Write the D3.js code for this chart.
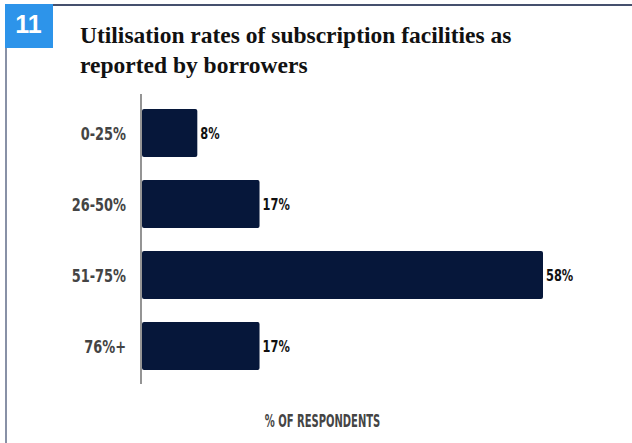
<!DOCTYPE html>
<html>
<head>
<meta charset="utf-8">
<script src="https://cdn.jsdelivr.net/npm/d3@7"></script>
<style>
  html, body { margin: 0; padding: 0; background: #fff; }
  svg { display: block; }
</style>
</head>
<body>
<svg id="chart" width="632" height="443"></svg>
<script>
// Utilisation bands and share of respondents (%)
const categories = ["0-25%", "26-50%", "51-75%", "76%+"];
const values = [8, 17, 58, 17];
const titleLines = ["Utilisation rates of subscription facilities as", "reported by borrowers"];
const chartNumber = "11";
const axisTitle = "% OF RESPONDENTS";

const svg = d3.select("#chart");
const labelFont = "'DejaVu Sans', sans-serif";

// Frame: top rule and left rule
svg.append("line").attr("x1", 5).attr("x2", 632).attr("y1", 5).attr("y2", 5)
  .attr("stroke", "#45506d").attr("stroke-width", 2);
svg.append("line").attr("x1", 6).attr("x2", 6).attr("y1", 5).attr("y2", 443)
  .attr("stroke", "#8891a6").attr("stroke-width", 2);

// Chart number badge
svg.append("rect").attr("x", 5).attr("y", 4).attr("width", 48).attr("height", 44).attr("fill", "#2d94ea");
svg.append("text").attr("x", 28.5).attr("y", 33).attr("text-anchor", "middle")
  .attr("fill", "#fff").attr("font-family", "'Liberation Sans', Arial, sans-serif")
  .attr("font-weight", "bold").attr("font-size", 25).text(chartNumber);

// Title
const title = svg.append("text").attr("font-family", "'Liberation Serif', 'DejaVu Serif', serif")
  .attr("font-weight", "bold").attr("font-size", 23.5).attr("fill", "#111");
titleLines.forEach((t, i) => {
  title.append("tspan").attr("x", 80).attr("y", 43 + i * 30).text(t);
});

// Scales
const x = d3.scaleLinear().domain([0, 58]).range([142, 543]);
const y = d3.scaleBand().domain(categories).range([97.6, 381.3]).paddingInner(0.324).paddingOuter(0.16);

// Bars
svg.append("g").selectAll("rect").data(values).join("rect")
  .attr("x", x(0))
  .attr("y", (d, i) => y(categories[i]))
  .attr("width", d => x(d) - x(0))
  .attr("height", y.bandwidth())
  .attr("rx", 2)
  .attr("fill", "#06173a");

// Baseline axis
svg.append("line").attr("x1", 141).attr("x2", 141).attr("y1", 94).attr("y2", 384)
  .attr("stroke", "#7a7a7a").attr("stroke-width", 1.6);

// Narrow display labels: horizontally compressed bold sans
const cy = d => y(d) + y.bandwidth() / 2;

svg.append("g").selectAll("text").data(categories).join("text")
  .attr("transform", d => `translate(126,${cy(d)}) scale(0.7,1)`)
  .attr("dy", "0.37em")
  .attr("text-anchor", "end")
  .attr("font-family", labelFont).attr("font-weight", "bold").attr("font-size", 18.5)
  .attr("fill", "#444")
  .text(d => d);

svg.append("g").selectAll("text").data(values).join("text")
  .attr("transform", (d, i) => `translate(${x(d) + 3},${cy(categories[i])}) scale(0.76,1)`)
  .attr("dy", "0.37em")
  .attr("font-family", labelFont).attr("font-weight", "bold").attr("font-size", 15)
  .attr("fill", "#111")
  .text(d => d + "%");

// Axis title
svg.append("text").attr("transform", "translate(322.5,427) scale(0.555,1)").attr("text-anchor", "middle")
  .attr("font-family", labelFont).attr("font-weight", "bold").attr("font-size", 18)
  .attr("fill", "#444").text(axisTitle);
</script>
</body>
</html>
